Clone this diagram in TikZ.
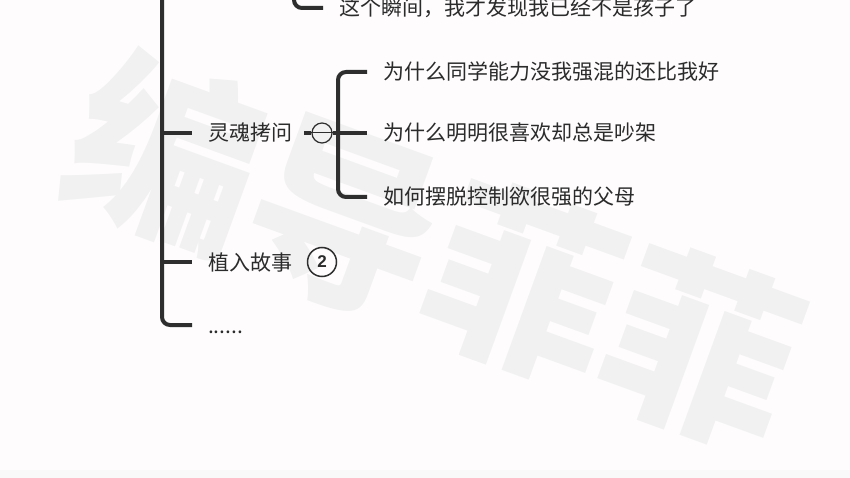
\documentclass[tikz,border=0pt]{standalone}
\usepackage{fontspec}
\newfontfamily\cjk{Noto Sans CJK SC}
\newfontfamily\latn{Liberation Sans}
\definecolor{tinta}{HTML}{2B2B2B}
\definecolor{trazo}{HTML}{2E2E2E}
\definecolor{marca}{HTML}{F1F1F1}
\definecolor{fondo}{HTML}{FEFCFD}
\definecolor{borde}{HTML}{FAF9FA}
\tikzset{
	rama/.style={draw=trazo, line width=4pt, rounded corners=8pt},
	txt/.style={anchor=west, inner sep=0pt, outer xsep=16pt, text=tinta,
		text height=18pt, text depth=2pt, font=\cjk\fontsize{21}{25}\selectfont},
	plegar/.style={circle, draw=trazo, line width=1.2pt, minimum size=20pt, inner sep=0pt},
	cuenta/.style={circle, draw=trazo, line width=1.5pt, minimum size=29pt, inner sep=0pt,
		text=tinta, font=\latn\bfseries\fontsize{17}{17}\selectfont}
}
\begin{document}
\begin{tikzpicture}[x=1pt, y=-1pt]

% Fondo
	\fill[fondo] (0,0) rectangle (850,478);
	\fill[borde] (0,470) rectangle (850,478);
	\useasboundingbox (0,0) rectangle (850,478);

% Marca de agua
	\node[text=marca, rotate=-20, font=\cjk\bfseries\fontsize{190}{190}\selectfont] (agua) at (435,250) {编导菲菲};

% Tronco principal
	\coordinate (raiz) at (162,-10);
	\node[txt] (alma) at (192,133) {灵魂拷问};
	\node[txt] (cuento) at (192,262) {植入故事};
	\node[txt] (resto) at (192,325) {......};
	\draw[rama] (raiz) |- (resto.west);
	\draw[rama] (raiz |- alma.west) -- (alma.west);
	\draw[rama] (raiz |- cuento.west) -- (cuento.west);

% Rama superior
	\coordinate (sub) at (294,-10);
	\node[txt] (instante) at (323,8) {这个瞬间，我才发现我已经不是孩子了};
	\draw[rama] (sub) |- (instante.west);

% Preguntas
	\node[plegar] (pleg) at (322,133) {};
	\draw[trazo, line width=1pt] (pleg.west) -- (pleg.east);
	\draw[rama] ([xshift=-7pt]pleg.west) -- (pleg.west);

	\foreach \y/\texto [count=\i] in {72/为什么同学能力没我强混的还比我好, 133/为什么明明很喜欢却总是吵架, 197/如何摆脱控制欲很强的父母}
		\node[txt] (q\i) at (367,\y) {\texto};

	\coordinate (horq) at (338,133);
	\draw[rama] (q1.west) -| (horq) |- (q3.west);
	\draw[rama] (pleg.east) -- (q2.west);

% Cuenta
	\node[cuenta] (num) at (322,262) {2};
\end{tikzpicture}
\end{document}
